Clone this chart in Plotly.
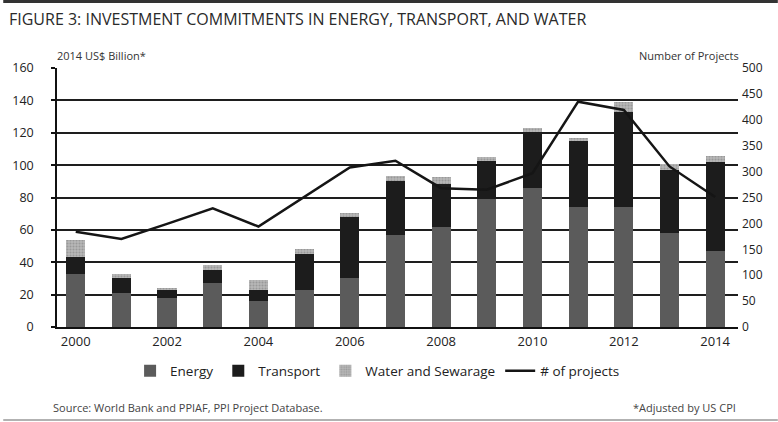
import plotly.graph_objects as go

years = list(range(2000, 2015))
energy = [33, 21, 18, 27, 16, 23, 30, 57, 62, 79, 86, 74, 74, 58, 47]
transport_top = [43.5, 30.5, 22.7, 35.5, 22.7, 44.8, 68, 90, 88.4, 102.8, 120.4, 115, 133, 97, 102.2]
water_top = [54, 33, 24.4, 38.6, 28.9, 48, 70.6, 93.3, 92.5, 105.3, 122.8, 117, 138.7, 100.5, 105.9]
transport = [round(t - e, 1) for t, e in zip(transport_top, energy)]
water = [round(w - t, 1) for w, t in zip(water_top, transport_top)]
projects = [184, 170, 199, 229, 194, 251, 308, 321, 268, 265, 297, 435, 419, 310, 251]

left_ticks = list(range(0, 161, 20))
right_ticks = list(range(0, 501, 50))
x_ticks = list(range(2000, 2015, 2))

FONT = "Open Sans"
W, H = 778, 422
ML, MR, MT, MB = 54, 40, 68, 95
PW, PH = W - ML - MR, H - MT - MB


def px_x(p):
    return (p - ML) / PW


def px_y(p):
    return (H - MB - p) / PH


fig = go.Figure()
fig.add_bar(x=years, y=energy, name="Energy", marker=dict(color="#5b5b5b", line=dict(width=0)))
fig.add_bar(x=years, y=transport, name="Transport", marker=dict(color="#1c1c1c", line=dict(width=0)))
fig.add_bar(x=years, y=water, name="Water and Sewarage",
            marker=dict(color="#a9a9a9", line=dict(width=0),
                        pattern=dict(shape=".", fgcolor="#7a7a7a", bgcolor="#b8b8b8", size=3, solidity=0.4)))
fig.add_scatter(x=years, y=projects, name="# of projects", mode="lines", yaxis="y2",
                line=dict(color="#151515", width=2.5))

fig.update_layout(
    width=W, height=H,
    margin=dict(l=ML, r=MR, t=MT, b=MB),
    paper_bgcolor="white", plot_bgcolor="white",
    barmode="stack", bargap=0.58,
    font=dict(family=FONT, color="#333"),
    title=dict(text="FIGURE 3: INVESTMENT COMMITMENTS IN ENERGY, TRANSPORT, AND WATER",
               x=9 / W, xanchor="left", xref="container",
               y=1 - 19 / H, yanchor="middle", yref="container",
               font=dict(family=FONT, size=16, color="#2a2a2a")),
    xaxis=dict(range=[1999.59, 2014.5], tickvals=x_ticks, ticktext=[str(v) for v in x_ticks],
               showgrid=False, zeroline=False, showline=True, linecolor="#111", linewidth=2,
               ticks="", ticklabelstandoff=1, tickfont=dict(size=13, color="#222")),
    yaxis=dict(range=[0, 160], tickvals=left_ticks, showgrid=True, gridcolor="#1e1e1e", gridwidth=1.5,
               zeroline=False, showline=True, linecolor="#111", linewidth=1.5,
               ticks="outside", ticklen=4, tickcolor="#111", tickwidth=1.5,
               ticklabelstandoff=15, tickfont=dict(size=12.5, color="#222")),
    yaxis2=dict(range=[0, 500], tickvals=right_ticks, overlaying="y", side="right",
                showgrid=False, zeroline=False, showline=False, ticks="",
                ticklabelstandoff=3, tickfont=dict(size=12, color="#222")),
    legend=dict(orientation="h", x=px_x(376), xanchor="center", y=px_y(371), yanchor="middle",
                font=dict(size=13.5, color="#222"), traceorder="normal", itemwidth=30,
                bgcolor="rgba(0,0,0,0)"),
    showlegend=True,
)

fig.add_annotation(text="2014 US$ Billion*", xref="paper", yref="paper", x=px_x(52), y=px_y(55),
                   xanchor="left", yanchor="middle", showarrow=False,
                   font=dict(size=11, color="#333"))
fig.add_annotation(text="Number of Projects", xref="paper", yref="paper", x=px_x(741), y=px_y(55),
                   xanchor="right", yanchor="middle", showarrow=False,
                   font=dict(size=11, color="#333"))
fig.add_annotation(text="Source: World Bank and PPIAF, PPI Project Database.", xref="paper", yref="paper",
                   x=px_x(48), y=px_y(407), xanchor="left", yanchor="middle", showarrow=False,
                   font=dict(size=11, color="#444"))
fig.add_annotation(text="*Adjusted by US CPI", xref="paper", yref="paper",
                   x=px_x(738), y=px_y(407), xanchor="right", yanchor="middle", showarrow=False,
                   font=dict(size=11, color="#444"))

fig.add_shape(type="line", xref="paper", yref="paper", x0=px_x(0), x1=px_x(W), y0=px_y(1.5), y1=px_y(1.5),
              line=dict(color="#333", width=3))
fig.add_shape(type="line", xref="paper", yref="paper", x0=px_x(0), x1=px_x(W), y0=px_y(420), y1=px_y(420),
              line=dict(color="#999", width=1.5))

fig.write_html("out.html")
